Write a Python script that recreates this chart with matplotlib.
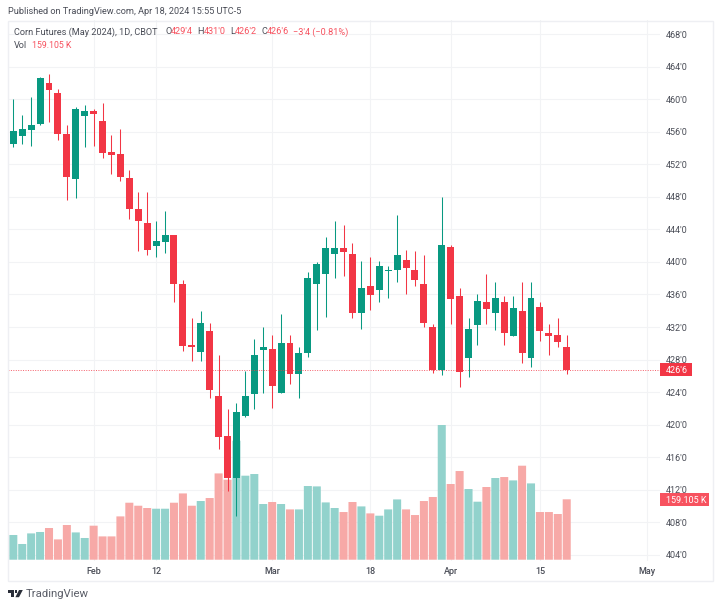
import matplotlib
matplotlib.use('Agg')
import matplotlib.pyplot as plt
from matplotlib.patches import Polygon, Rectangle
import pandas as pd

plt.rcParams['font.family'] = ['Roboto', 'DejaVu Sans']

# daily bars, Jan 19 to Apr 18 2024
opens = [454.5, 455.5, 456.25, 456.9, 461.98, 460.75, 455.75, 450.19, 457.93, 458.5,
         457.28, 453.5, 453.3, 450.27, 446.5, 444.78, 442.0, 442.45, 443.27, 437.29,
         429.8, 428.97, 431.55, 423.53, 418.62, 413.49, 421.03, 423.78, 429.22, 429.31,
         423.94, 430.04, 426.23, 428.81, 437.25, 438.52, 440.97, 441.75, 441.01, 433.76,
         437.04, 436.51, 438.92, 438.97, 440.27, 439.01, 437.33, 432.04, 426.72, 441.8,
         435.82, 428.24, 432.29, 435.08, 433.76, 435.08, 430.9, 434.01, 428.24, 434.5,
         431.27, 430.99, 429.5]
highs = [460.02, 458.05, 460.25, 462.72, 463.09, 461.25, 456.79, 459.0, 459.24, 458.79,
         459.53, 455.6, 456.33, 451.3, 448.59, 448.59, 445.07, 446.29, 443.3, 437.78,
         433.07, 434.01, 432.5, 428.57, 421.93, 422.63, 426.64, 430.5, 432.04, 431.03,
         433.57, 430.99, 429.59, 438.76, 440.03, 443.03, 445.07, 444.5, 442.29, 440.12,
         440.57, 440.12, 439.5, 445.73, 441.47, 441.31, 440.85, 432.34, 448.01, 442.05,
         436.76, 433.11, 436.02, 438.56, 437.5, 435.82, 435.82, 437.54, 437.5, 435.08,
         432.34, 433.07, 431.0]
lows = [454.12, 454.5, 454.3, 456.8, 457.23, 455.0, 447.57, 447.86, 454.08, 454.28,
        452.77, 450.77, 449.98, 445.27, 441.34, 440.89, 440.57, 441.06, 435.12, 429.06,
        427.83, 427.83, 423.32, 417.06, 411.86, 408.82, 420.95, 421.9, 423.86, 422.06,
        423.94, 425.04, 423.29, 428.28, 431.6, 433.27, 438.03, 438.27, 433.11, 431.8,
        434.06, 435.08, 435.57, 437.54, 436.02, 437.08, 432.04, 426.32, 426.11, 432.34,
        424.6, 425.83, 429.83, 432.34, 431.6, 429.8, 430.9, 427.55, 427.09, 430.29,
        428.6, 429.59, 426.25]
closes = [456.05, 456.3, 456.79, 462.56, 461.16, 455.68, 450.47, 458.79, 458.5, 458.2,
          453.38, 453.17, 450.47, 446.47, 445.03, 441.43, 442.53, 443.27, 437.29, 429.71,
          429.51, 432.5, 424.27, 418.53, 413.49, 421.57, 423.53, 428.53, 429.59, 424.72,
          430.04, 426.23, 428.81, 437.99, 439.78, 441.75, 441.75, 441.22, 433.76, 436.76,
          435.94, 439.5, 439.01, 440.85, 439.26, 437.74, 432.46, 426.72, 442.05, 435.48,
          426.52, 431.76, 435.24, 434.26, 435.53, 431.24, 434.31, 428.78, 435.53, 431.52,
          430.94, 430.16, 426.75]
# thousands of contracts
volumes = [65.1, 41.4, 69.3, 73.0, 83.5, 53.5, 91.4, 71.9, 57.2, 89.6,
           61.4, 61.4, 114.1, 150.1, 142.2, 136.2, 134.3, 134.3, 150.1, 174.6,
           142.2, 154.6, 162.5, 227.3, 210.7, 313.4, 221.3, 225.7, 146.7, 152.0,
           146.7, 132.5, 132.5, 194.1, 193.1, 150.9, 136.2, 125.6, 152.0, 140.4,
           122.0, 115.9, 132.5, 158.8, 132.5, 117.7, 154.6, 165.2, 354.8, 199.4,
           233.6, 186.2, 152.8, 191.5, 215.2, 217.8, 208.9, 247.6, 201.0, 125.6,
           125.6, 120.4, 159.105]

holidays = ['2024-02-19', '2024-03-29']
tick_dates = ['2024-02-01', '2024-02-12', '2024-03-01', '2024-03-18',
              '2024-04-01', '2024-04-15', '2024-05-01']
tick_labels = ['Feb', '12', 'Mar', '18', 'Apr', '15', 'May']
price_ticks = list(range(404, 469, 4))

last_price = 426.75
last_volume = 159.105

GREEN = '#089981'
RED = '#f23645'
GREEN_VOL = '#92d2cc'
RED_VOL = '#f7a9a7'
TEXT = '#4a4d57'
LEGEND_RED = '#f7525f'
GRID = '#f2f3f5'
W, H = 720, 608


def fx(x):
    return x / W


def fy(y):
    return 1 - y / H


def label(x, y, s, color=TEXT, size=6.5, **kw):
    return fig.text(fx(x), fy(y), s, color=color, fontsize=size, va='center', **kw)


fig = plt.figure(figsize=(W / 100, H / 100), dpi=100)
ax = fig.add_axes([fx(8), fy(561), (660 - 8) / W, (561 - 20) / H])
ax_vol = ax.twinx()
ax_top = ax.twinx()

days = pd.bdate_range('2024-01-19', '2024-05-01')
days = days.drop(pd.to_datetime(holidays))
x = list(range(len(closes)))
is_up = [c >= o for o, c in zip(opens, closes)]

bars = ax_vol.bar(x, volumes, width=0.9, linewidth=0,
                  color=[GREEN_VOL if up else RED_VOL for up in is_up])
for bar in bars:
    bar.set_snap(False)

colors = [GREEN if up else RED for up in is_up]
ax_top.vlines(x, lows, highs, colors=colors, linewidth=0.75)
ax_top.bar(x, [abs(c - o) for o, c in zip(opens, closes)],
           bottom=[min(o, c) for o, c in zip(opens, closes)],
           width=0.78, color=colors, linewidth=0)
ax_top.axhline(last_price, color=RED, linewidth=0.7, linestyle=(0, (1, 1.5)), alpha=0.8)

ax.set_xlim(-0.594, 72.45)
ax.set_ylim(403.26, 469.72)
ax_top.set_ylim(ax.get_ylim())
ax_vol.set_ylim(-3.4, 1421.6)

ax_vol.set_yticks([])
ax_top.set_yticks([])
ax.yaxis.tick_right()
ax.set_yticks(price_ticks)
ax.set_yticklabels(["{}'0".format(p) for p in price_ticks])
ax.set_xticks([days.get_loc(pd.Timestamp(d)) for d in tick_dates])
ax.set_xticklabels(tick_labels, fontweight='medium')
ax.tick_params(axis='y', length=0, pad=4.3, labelsize=6.5, labelcolor=TEXT)
ax.tick_params(axis='x', length=0, pad=4.5, labelsize=6.5, labelcolor=TEXT)
ax.grid(True, color=GRID, linewidth=0.8)
ax.set_axisbelow(True)
for a in [ax, ax_vol, ax_top]:
    for spine in a.spines.values():
        spine.set_visible(False)

# last value tags on the price scale
ax_top.add_patch(Rectangle((1, last_price - 0.82), 32 / 652, 1.65, color=RED, linewidth=0,
                           transform=ax_top.get_yaxis_transform(), clip_on=False))
ax_top.text(1 + 6 / 652, last_price, "426'6", color='white', fontsize=6.5, va='center_baseline',
            ha='left', transform=ax_top.get_yaxis_transform(), clip_on=False)
ax_vol.add_patch(Rectangle((1, last_volume - 17.6), 49 / 652, 35.3, color=LEGEND_RED, linewidth=0,
                           transform=ax_vol.get_yaxis_transform(), clip_on=False, zorder=5))
ax_vol.text(1 + 6 / 652, last_volume, '159.105 K', color='white', fontsize=6.5, va='center_baseline',
            ha='left', transform=ax_vol.get_yaxis_transform(), clip_on=False, zorder=6)

# outer frame
fig.add_artist(Rectangle((fx(7.5), fy(580.5)), (712.5 - 7.5) / W, (580.5 - 20.5) / H,
                         transform=fig.transFigure, fill=False, edgecolor='#eeeff3', linewidth=1.0))

label(8, 11.5, 'Published on TradingView.com, Apr 18, 2024 15:55 UTC-5', size=6.6)

label(14, 32, 'Corn Futures (May 2024), 1D, CBOT', size=6.55)
for px, s, col in [(165, 'O', TEXT), (171, "429'4", LEGEND_RED),
                   (197.5, 'H', TEXT), (204, "431'0", LEGEND_RED),
                   (230, 'L', TEXT), (235, "426'2", LEGEND_RED),
                   (261, 'C', TEXT), (267, "426'6", LEGEND_RED),
                   (293, "\u22123'4 (\u22120.81%)", LEGEND_RED)]:
    label(px, 32, s, color=col, size=6.55)
label(14, 45, 'Vol', size=6.55)
label(32, 45, '159.105 K', color=LEGEND_RED, size=6.3)

# logo
logo = '#2a2e39'
fig.add_artist(Polygon([(fx(a), fy(b)) for a, b in
                        [(8, 590), (14, 590), (14, 597.2), (10.6, 597.2), (10.6, 592.6), (8, 592.6)]],
                       transform=fig.transFigure, color=logo, linewidth=0))
fig.add_artist(Polygon([(fx(a), fy(b)) for a, b in
                        [(19, 590), (22.8, 590), (19, 597.2), (15.4, 597.2)]],
                       transform=fig.transFigure, color=logo, linewidth=0))
fig.add_artist(Rectangle((fx(14.6), fy(592.6)), 2.4 / W, 2.6 / H,
                         transform=fig.transFigure, color=logo, linewidth=0))
label(26, 594, 'TradingView', color='#5b5e68', size=8.2)

fig.savefig('out.png', dpi=100)
